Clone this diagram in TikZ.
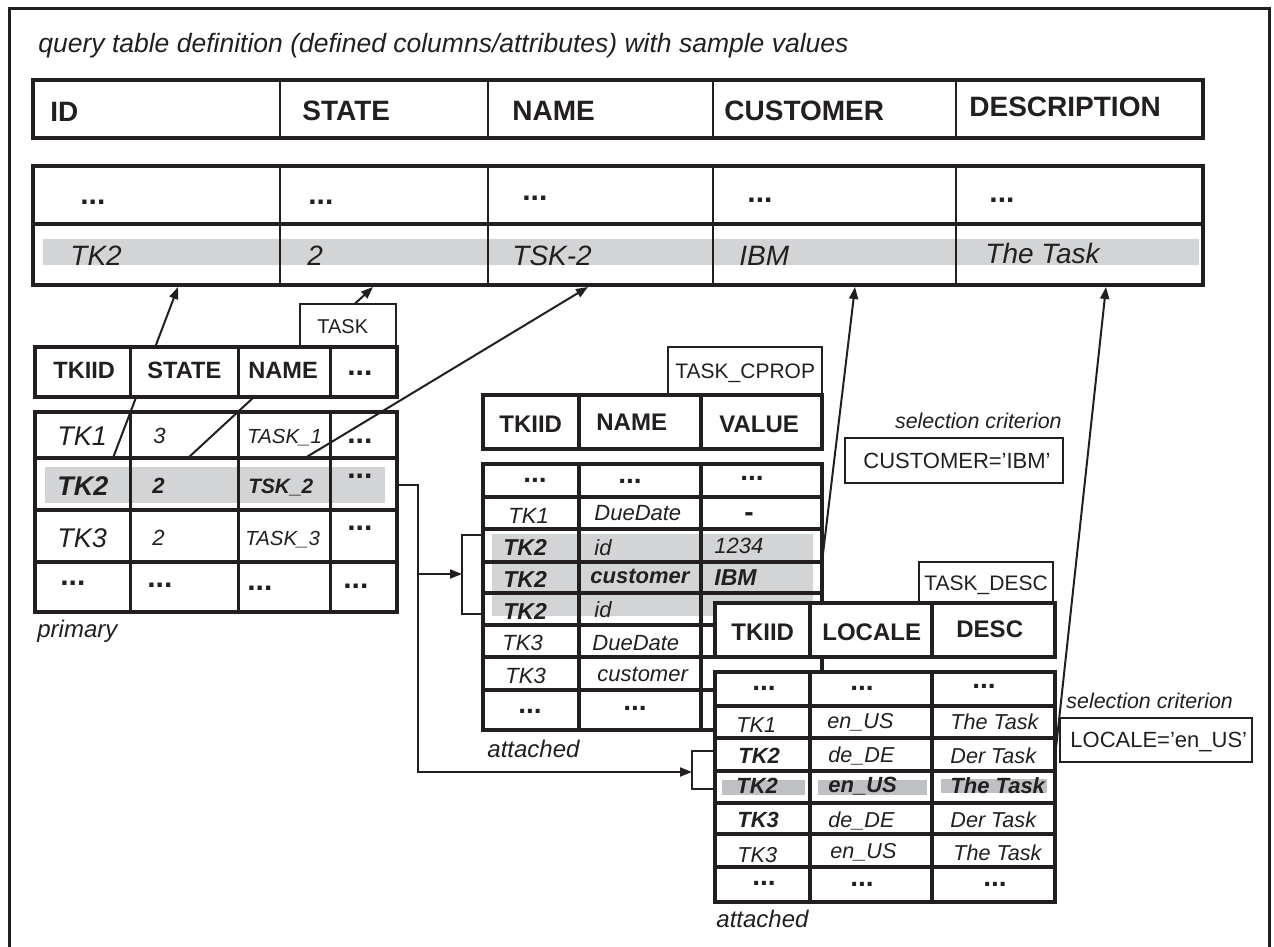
\documentclass[tikz,border=0pt]{standalone}
\usepackage{fontspec}
\setmainfont{Liberation Sans}
\usetikzlibrary{arrows.meta}
\definecolor{ink}{RGB}{35,31,32}
\definecolor{band}{RGB}{211,212,214}
\definecolor{bandd}{RGB}{190,192,195}
\newcommand\fsz[1]{\fontsize{#1}{#1}\selectfont}

\begin{document}
\begin{tikzpicture}[x=0.5pt, y=-0.5pt, color=ink, >={Triangle[length=6pt,width=4.5pt]},
  tbl/.style={line width=2pt, fill=white},
  sep/.style={line width=1pt},
  sepb/.style={line width=2pt},
  lbl/.style={line width=1pt, fill=white},
  link/.style={line width=1pt},
  txt/.style={anchor=base west, inner sep=0pt},
  hd/.style={txt, font=\fsz{14}\bfseries},
  thd/.style={txt, font=\fsz{11.8}\bfseries},
  dots/.style={txt, font=\fsz{15}\bfseries},
  val/.style={txt, font=\fsz{14}\itshape},
  tag/.style={txt, font=\fsz{10.5}},
  note/.style={txt, font=\fsz{12}\itshape}]
\useasboundingbox (0,0) rectangle (1274,947);
% frame
\draw[line width=1.5pt] (9,947) -- (9,9) -- (1269,9) -- (1269,947);
\node[txt, font=\fsz{13.25}\itshape] (title) at (38,53)
  {query table definition (defined columns/attributes) with sample values};

% query table: columns
\draw[tbl] (33,80) rectangle (1203,138);
\foreach \x in {280,488,713,956} \draw[sep] (\x,80) -- (\x,138);
\node[hd] (hid) at (50,122) {ID};
\node[hd] (hstate) at (302,120) {STATE};
\node[hd] (hname) at (512,120) {NAME};
\node[hd] (hcust) at (724,120) {CUSTOMER};
\node[hd] (hdesc) at (969,117) {DESCRIPTION};

% query table: sample values
\fill[white] (33,166) rectangle (1203,285);
\fill[band] (43,239) rectangle (1199,265);
\foreach \x in {280,488,713,956} \draw[sep] (\x,166) -- (\x,285);
\draw[sepb] (33,224) -- (1203,224);
\draw[line width=2pt] (33,166) rectangle (1203,285);
\foreach \x/\y [count=\i] in {80/205,308/204,522/200,747/202,989/202}
  \node[dots] (qdots\i) at (\x,\y) {...};
\node[val] (qv1) at (70,265) {TK2};
\node[val] (qv2) at (307,265) {2};
\node[val] (qv3) at (512,265) {TSK-2};
\node[val] (qv4) at (739,265) {IBM};
\node[val] (qv5) at (985,263) {The Task};
\coordinate (qid) at (178,287);
\coordinate (qstate) at (373,287);
\coordinate (qname) at (588,287);
\coordinate (qcust) at (855,287);
\coordinate (qdesc) at (1106,287);

% TASK rows
\fill[white] (35,412) rectangle (397,612);
\fill[band] (45,467) rectangle (385,503);
\foreach \y in {458,510,562} \draw[sepb] (35,\y) -- (397,\y);
\foreach \x in {130,238,330} \draw[line width=1.5pt] (\x,412) -- (\x,612);
\draw[line width=2pt] (35,412) rectangle (397,612);
\node[val, font=\fsz{13.5}\itshape] (ta1) at (57,445) {TK1};
\node[txt, font=\fsz{11}\itshape] (ta2) at (153,443) {3};
\node[txt, font=\fsz{10.2}\itshape] (ta3) at (247,443) {TASK\_1};
\node[dots] (ta4) at (347,443) {...};
\node[txt, font=\fsz{13.5}\bfseries\itshape] (tb1) at (57,495) {TK2};
\node[txt, font=\fsz{11}\bfseries\itshape] (tb2) at (152,493) {2};
\node[txt, font=\fsz{10.4}\bfseries\itshape] (tb3) at (248,493) {TSK\_2};
\node[dots] (tb4) at (347,478) {...};
\node[val, font=\fsz{13.5}\itshape] (tc1) at (57,547) {TK3};
\node[txt, font=\fsz{11}\itshape] (tc2) at (152,545) {2};
\node[txt, font=\fsz{10.2}\itshape] (tc3) at (245,545) {TASK\_3};
\node[dots] (tc4) at (347,530) {...};
\foreach \x/\y [count=\i] in {60/585,147/587,247/590,343/588}
  \node[dots] (td\i) at (\x,\y) {...};
\node[note] (primary) at (37,637) {primary};

% mapped columns
\coordinate (tk2id) at (113,458);
\coordinate (tk2state) at (188,458);
\coordinate (tk2name) at (305,458);
\draw[link,->] (tk2id) -- (qid);
\draw[link,->] (tk2state) -- (qstate);
\draw[link,->] (tk2name) -- (qname);

% TASK columns
\draw[lbl] (300,304) rectangle (396,347);
\node[tag, font=\fsz{10}] (tasklbl) at (317,333) {TASK};
\draw[tbl] (35,347) rectangle (397,397);
\foreach \x in {130,238,330} \draw[line width=1.5pt] (\x,347) -- (\x,397);
\node[thd] (th1) at (53,378) {TKIID};
\node[thd] (th2) at (147,378) {STATE};
\node[thd] (th3) at (248,378) {NAME};
\node[dots] (th4) at (347,375) {...};

% TASK_CPROP
\draw[lbl] (668,347) rectangle (822,395);
\node[tag] (cproplbl) at (675,378) {TASK\_CPROP};
\draw[tbl] (483,395) rectangle (822,449);
\foreach \x in {579,701} \draw[sepb] (\x,395) -- (\x,449);
\node[thd, font=\fsz{12}\bfseries] (ch1) at (499,432) {TKIID};
\node[thd, font=\fsz{12}\bfseries] (ch2) at (596,430) {NAME};
\node[thd, font=\fsz{12}\bfseries] (ch3) at (719,432) {VALUE};
\fill[white] (483,464) rectangle (822,730);
\fill[band] (492,534) rectangle (813,616);
\foreach \y in {497,529,562,593,625,657,690} \draw[sepb] (483,\y) -- (822,\y);
\foreach \x in {579,701} \draw[sepb] (\x,464) -- (\x,730);
\draw[line width=2pt] (483,464) rectangle (822,730);
\tikzset{cv/.style={txt, font=\fsz{11}\itshape}, cb/.style={txt, font=\fsz{11.5}\bfseries\itshape}}
\node[dots, font=\fsz{14}\bfseries] (cr1a) at (523,482) {...};
\node[dots, font=\fsz{14}\bfseries] (cr1b) at (618,483) {...};
\node[dots, font=\fsz{14}\bfseries] (cr1c) at (740,480) {...};
\node[cv] (cr2a) at (508,523) {TK1};
\node[cv] (cr2b) at (594,520) {DueDate};
\node[txt, anchor=base, font=\fsz{14}\bfseries] (cr2c) at (749,521) {-};
\node[cb] (cr3a) at (503,555) {TK2};
\node[cv] (cr3b) at (594,555) {id};
\node[cv] (cr3c) at (714,553) {1234};
\node[cb] (cr4a) at (503,587) {TK2};
\node[cb, font=\fsz{11}\bfseries\itshape] (cr4b) at (590,583) {customer};
\node[cb] (cr4c) at (714,585) {IBM};
\node[cb] (cr5a) at (503,619) {TK2};
\node[cv] (cr5b) at (594,617) {id};
\node[cv] (cr6a) at (502,650) {TK3};
\node[cv] (cr6b) at (592,650) {DueDate};
\node[cv] (cr7a) at (505,683) {TK3};
\node[cv] (cr7b) at (597,681) {customer};
\node[dots, font=\fsz{14}\bfseries] (cr8a) at (518,713) {...};
\node[dots, font=\fsz{14}\bfseries] (cr8b) at (623,710) {...};
\node[note] (att1) at (487,757) {attached};
\coordinate (cpropibm) at (822,562);
\draw[link,->] (cpropibm) -- (qcust);

% joins from the TK2 row
\coordinate (tk2row) at (397,485);
\coordinate (bend) at (418,772);
\coordinate (cpropin) at (462,574);
\coordinate (descin) at (692,772);
\draw[link,->] (tk2row) -| (bend) -- (descin);
\draw[link,->] (bend |- cpropin) -- (cpropin);
\draw[link] (485,535) -- (462,535) -- (462,614) -- (485,614);

% TASK_DESC
\draw[lbl] (919,562) rectangle (1053,603);
\node[tag] (desclbl) at (924,590) {TASK\_DESC};
\draw[tbl] (715,603) rectangle (1055,657);
\foreach \x in {810,932} \draw[sepb] (\x,603) -- (\x,657);
\node[thd, font=\fsz{12}\bfseries] (dh1) at (731,640) {TKIID};
\node[thd, font=\fsz{12}\bfseries] (dh2) at (822,640) {LOCALE};
\node[thd, font=\fsz{12}\bfseries] (dh3) at (956,637) {DESC};
\fill[white] (715,672) rectangle (1055,902);
\fill[bandd] (722,780) rectangle (805,795);
\fill[bandd] (818,780) rectangle (927,795);
\fill[bandd] (941,779) rectangle (1047,793);
\foreach \y in {706,738,771,803,834,867} \draw[sepb] (715,\y) -- (1055,\y);
\foreach \x in {810,932} \draw[sepb] (\x,672) -- (\x,902);
\draw[line width=2pt] (715,672) rectangle (1055,902);
\tikzset{dv/.style={txt, font=\fsz{10.8}\itshape}, db/.style={txt, font=\fsz{11}\bfseries\itshape}}
\foreach \x/\y [count=\i] in {752/690,850/690,972/688}
  \node[dots, font=\fsz{14}\bfseries] (dr1\i) at (\x,\y) {...};
\node[dv] (dr2a) at (736,732) {TK1};
\node[dv] (dr2b) at (827,728) {en\_US};
\node[dv] (dr2c) at (950,729) {The Task};
\node[db] (dr3a) at (738,763) {TK2};
\node[dv] (dr3b) at (828,762) {de\_DE};
\node[dv] (dr3c) at (950,763) {Der Task};
\node[db] (dr4a) at (736,793) {TK2};
\node[db] (dr4b) at (828,792) {en\_US};
\node[db] (dr4c) at (950,793) {The Task};
\node[db] (dr5a) at (737,827) {TK3};
\node[dv] (dr5b) at (828,827) {de\_DE};
\node[dv] (dr5c) at (950,827) {Der Task};
\node[dv] (dr6a) at (737,862) {TK3};
\node[dv] (dr6b) at (830,858) {en\_US};
\node[dv] (dr6c) at (953,860) {The Task};
\foreach \x/\y [count=\i] in {752/885,850/886,983/886}
  \node[dots, font=\fsz{14}\bfseries] (dr7\i) at (\x,\y) {...};
\node[note] (att2) at (716,927) {attached};
\draw[link] (715,751) -- (692,751) -- (692,789) -- (715,789);
\coordinate (descrow) at (1055,757);
\draw[link,->] (descrow) -- (qdesc);

% selection criteria
\node[txt, anchor=base east, font=\fsz{10.7}\itshape] (sel1) at (1062,428) {selection criterion};
\draw[lbl] (845,438) rectangle (1063,483);
\node[txt, font=\fsz{11}] (crit1) at (863,468) {CUSTOMER='IBM'};
\node[txt, font=\fsz{10.7}\itshape] (sel2) at (1066,708) {selection criterion};
\draw[lbl] (1060,718) rectangle (1252,762);
\node[txt, font=\fsz{11}] (crit2) at (1070,747) {LOCALE='en\_US'};
\end{tikzpicture}
\end{document}
